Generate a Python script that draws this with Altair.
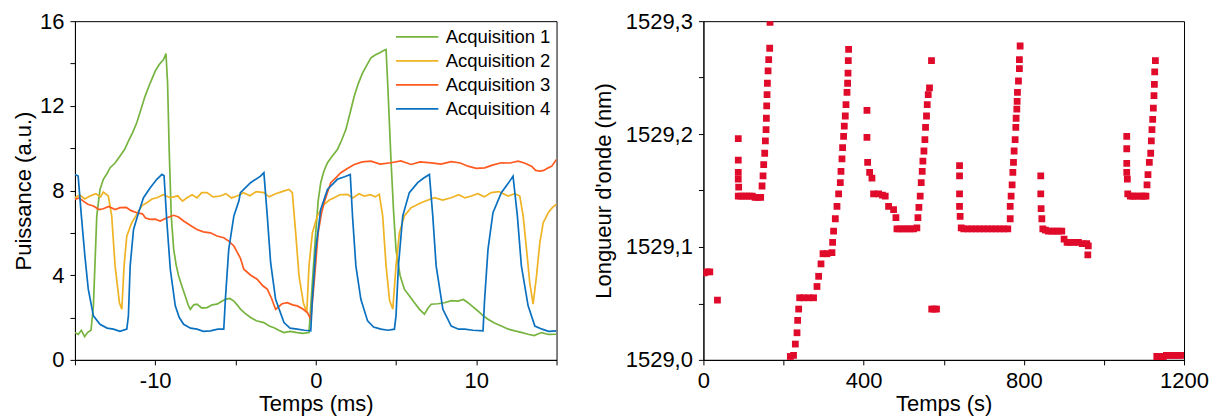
import altair as alt
import pandas as pd

# ---------------- Left panel: power vs time ----------------
series_names = ["Acquisition 1", "Acquisition 2", "Acquisition 3", "Acquisition 4"]
series_colors = ["#77B43F", "#EFB323", "#FF5A1F", "#0A71C1"]

acq1_t = [-15.0, -14.8, -14.6, -14.4, -14.2, -14.0, -13.85, -13.64, -13.44, -13.23, -13.0, -12.81,
          -12.5, -12.19, -11.9, -11.67, -11.4, -11.15, -10.9, -10.63, -10.3, -10.0, -9.75, -9.48,
          -9.33, -9.23, -9.13, -9.0, -8.85, -8.7, -8.54, -8.3, -8.13, -7.95, -7.81, -7.6, -7.4,
          -7.1, -6.77, -6.45, -6.15, -5.9, -5.63, -5.35, -5.1, -4.9, -4.69, -4.4, -4.06, -3.7,
          -3.23, -2.9, -2.6, -2.3, -1.98, -1.6, -1.15, -0.8, -0.42, -0.21, 0.0, 0.15, 0.31, 0.5,
          0.73, 1.0, 1.35, 1.6, 1.88, 2.15, 2.4, 2.65, 2.92, 3.2, 3.44, 3.7, 3.96, 4.2, 4.38,
          4.48, 4.69, 4.85, 5.0, 5.25, 5.52, 5.85, 6.15, 6.45, 6.77, 7.0, 7.19, 7.6, 8.02, 8.45,
          8.85, 9.2, 9.48, 9.8, 10.1, 10.4, 10.73, 11.1, 11.56, 12.0, 12.4, 12.8, 13.23, 13.6,
          14.06, 14.5, 15.0]
acq1_v = [1.3, 1.2, 1.4, 1.1, 1.3, 1.4, 2.55, 6.8, 8.05, 8.53, 8.8, 9.08,
          9.3, 9.63, 9.95, 10.33, 10.75, 11.2, 11.8, 12.46, 13.1, 13.64, 13.95, 14.19,
          14.47, 13.09, 9.94, 6.8, 5.22, 4.5, 3.96, 3.4, 3.02, 2.6, 2.39, 2.6, 2.63,
          2.45, 2.47, 2.6, 2.63, 2.75, 2.86, 2.9, 2.78, 2.6, 2.4, 2.2, 2.0, 1.85,
          1.76, 1.6, 1.52, 1.4, 1.29, 1.35, 1.29, 1.25, 1.29, 3.65, 6.0, 7.5, 8.37, 8.9,
          9.31, 9.6, 9.94, 10.35, 10.89, 11.7, 12.46, 13.05, 13.56, 13.95, 14.27, 14.4, 14.5, 14.6, 14.66,
          13.09, 9.4, 7.0, 5.2, 4.0, 3.34, 3.0, 2.7, 2.4, 2.16, 2.45, 2.63, 2.65, 2.7, 2.8,
          2.78, 2.85, 2.7, 2.5, 2.31, 2.1, 1.92, 1.75, 1.6, 1.45, 1.37, 1.3, 1.21, 1.15,
          1.29, 1.2, 1.21]

acq2_t = [-15.0, -14.7, -14.4, -14.06, -13.7, -13.4, -13.23, -12.92, -12.71, -12.5, -12.23, -12.08,
          -11.94, -11.77, -11.46, -11.2, -11.04, -10.8, -10.52, -10.2, -9.9, -9.5, -9.06, -8.6,
          -8.3, -8.02, -7.7, -7.4, -7.1, -6.77, -6.4, -5.94, -5.6, -5.25, -4.9, -4.5, -4.1, -3.7,
          -3.23, -2.9, -2.5, -2.1, -1.67, -1.46, -1.25, -1.04, -0.77, -0.56, -0.42, -0.21, 0.1,
          0.52, 0.85, 1.15, 1.5, 1.98, 2.3, 2.7, 3.02, 3.4, 3.7, 3.96, 4.17, 4.38, 4.6, 4.8, 5.0,
          5.21, 5.52, 5.94, 6.25, 6.56, 7.0, 7.4, 7.9, 8.44, 8.9, 9.3, 9.69, 10.1, 10.5, 10.94,
          11.4, 11.98, 12.4, 12.71, 12.92, 13.13, 13.33, 13.54, 13.75, 13.96, 14.17, 14.48, 14.75,
          15.0]
acq2_v = [7.66, 7.8, 7.6, 7.74, 7.85, 7.7, 7.93, 7.74, 6.8, 4.44, 2.7, 2.39,
          4.44, 5.85, 6.48, 6.8, 7.03, 7.3, 7.42, 7.6, 7.66, 7.8, 7.66, 7.75,
          7.5, 7.66, 7.8, 7.65, 7.9, 7.9, 7.7, 7.74, 7.85, 7.65, 7.74, 7.9, 7.75, 7.95,
          7.9, 7.7, 7.85, 7.95, 8.05, 7.9, 6.0, 3.96, 2.7, 2.23, 4.44, 6.0, 6.8,
          7.35, 7.55, 7.66, 7.8, 7.82, 7.65, 7.85, 7.74, 7.8, 7.7, 7.82, 6.8, 4.44, 2.8, 2.4, 4.44,
          6.0, 6.8, 7.19, 7.3, 7.42, 7.55, 7.66, 7.55, 7.66, 7.8, 7.65, 7.74, 7.85, 7.7, 7.9,
          7.95, 7.74, 7.85, 7.74, 6.8, 5.22, 3.65, 2.63, 3.96, 5.54, 6.48, 6.95, 7.2,
          7.35]

acq3_t = [-15.0, -14.75, -14.48, -14.2, -13.85, -13.5, -13.23, -12.9, -12.5, -12.19, -11.8, -11.5,
          -11.15, -10.8, -10.6, -10.31, -10.0, -9.69, -9.3, -8.85, -8.55, -8.23, -7.8, -7.4, -7.0,
          -6.56, -6.15, -5.73, -5.4, -5.1, -4.69, -4.48, -4.05, -3.65, -3.3, -3.02, -2.75, -2.5,
          -2.1, -1.77, -1.45, -1.15, -0.8, -0.52, -0.31, -0.1, 0.15, 0.35, 0.52, 0.75, 0.94, 1.25,
          1.56, 2.0, 2.4, 2.9, 3.44, 4.0, 4.69, 5.3, 5.94, 6.5, 7.19, 7.8, 8.44, 9.0, 9.48, 10.0,
          10.52, 11.0, 11.56, 12.1, 12.6, 13.0, 13.44, 13.7, 13.96, 14.2, 14.48, 14.7, 15.0]
acq3_v = [7.58, 7.65, 7.5, 7.35, 7.27, 7.1, 7.14, 7.25, 7.1, 7.19, 7.2, 7.05,
          6.95, 6.9, 6.7, 6.64, 6.65, 6.56, 6.7, 6.83, 6.75, 6.56, 6.35, 6.16, 6.05,
          6.0, 5.85, 5.77, 5.6, 5.38, 4.8, 4.28, 4.0, 3.81, 3.5, 3.34, 2.9, 2.39,
          2.65, 2.7, 2.6, 2.55, 2.4, 2.23, 1.92, 3.65, 6.0, 6.9, 7.42, 7.95, 8.37, 8.6,
          8.84, 9.05, 9.23, 9.35, 9.39, 9.25, 9.31, 9.4, 9.23, 9.35, 9.31, 9.25, 9.36, 9.3, 9.15, 9.05,
          9.07, 9.2, 9.31, 9.3, 9.39, 9.3, 9.15, 8.95, 8.92, 8.95, 9.07, 9.15, 9.47]

acq4_t = [-15.0, -14.8, -14.6, -14.38, -14.17, -13.85, -13.44, -13.0, -12.6, -12.2, -11.77, -11.67,
          -11.56, -11.35, -11.04, -10.73, -10.31, -9.9, -9.58, -9.45, -9.27, -9.06, -8.75, -8.5,
          -8.23, -7.8, -7.4, -7.0, -6.56, -6.1, -5.73, -5.63, -5.42, -5.1, -4.79, -4.69, -4.06,
          -3.44, -3.23, -3.02, -2.81, -2.5, -1.98, -1.6, -1.15, -0.7, -0.31, -0.21, 0.0, 0.31,
          0.73, 1.35, 1.8, 2.15, 2.29, 2.5, 2.81, 3.23, 3.6, 4.06, 4.5, 4.9, 5.0, 5.15, 5.42,
          5.83, 6.35, 6.75, 7.08, 7.29, 7.5, 7.92, 8.44, 8.9, 9.27, 9.8, 10.42, 10.52, 10.73,
          11.04, 11.56, 12.0, 12.29, 12.56, 12.81, 13.23, 13.65, 14.1, 14.5, 15.0]
acq4_v = [8.76, 8.68, 6.8, 4.9, 3.34, 2.08, 1.68, 1.5, 1.45, 1.35, 1.45, 2.08,
          4.44, 6.16, 6.95, 7.66, 8.13, 8.53, 8.76, 8.7, 6.48, 4.28, 2.55, 2.0,
          1.68, 1.5, 1.45, 1.35, 1.37, 1.45, 1.45, 2.86, 5.22, 6.8, 7.5, 7.9, 8.37,
          8.68, 8.84, 6.8, 4.59, 2.86, 1.76, 1.5, 1.45, 1.4, 1.37, 2.86, 5.22, 7.11,
          8.05, 8.53, 8.65, 8.76, 6.8, 4.44, 2.86, 1.84, 1.55, 1.45, 1.4, 1.45, 2.08, 4.44, 6.8,
          7.9, 8.37, 8.6, 8.76, 6.8, 4.44, 2.39, 1.6, 1.45, 1.45, 1.4, 1.37, 2.86, 5.22,
          6.95, 7.9, 8.35, 8.68, 6.8, 4.44, 2.55, 1.6, 1.45, 1.35, 1.37]

left_x_ticks = [-15, -10, -5, 0, 5, 10, 15]
left_x_labels = {-10: "-10", 0: "0", 10: "10"}
left_y_ticks = [0, 2, 4, 6, 8, 10, 12, 14, 16]

# ---------------- Right panel: wavelength vs time ----------------
wl_t = [2, 9, 16, 35,
        87, 87, 87, 87, 88,
        87, 94, 101, 108, 115, 122, 129, 136, 143,
        146.4, 148.9, 150.5, 153, 154.7, 156.4, 157.2, 158, 158.9, 159.7, 161.4, 163, 165.5, 166.3,
        217, 225, 229.5, 233.7, 235.3, 237.8, 240.3, 250, 263, 275, 283.6, 287.7, 293.6, 298.6,
        308.6, 321, 322.6, 325, 329.3, 333.5, 337.6, 341.8, 343.5, 346, 347.5, 350, 351.7, 354.2,
        356, 358.5, 360, 361, 361.7, 362.5,
        408.3, 408.3, 410, 415, 420.8, 424.9, 437.4, 447, 454, 462.3, 474.8, 480.7, 483.2, 491,
        499.7, 508, 516.4, 525, 533, 535.6, 538, 541.3, 543.8, 546.3, 548, 550.6, 553, 554.6, 557,
        558.8, 561.3, 564.5, 569.5,
        570, 576, 582,
        639.5, 639.5, 639.5, 639.5, 641, 643.6, 650, 660, 670, 680, 690, 700, 710, 720, 730, 740,
        750, 760, 766, 766, 768.3, 770.8, 772.6, 774.2, 775.8, 778.3, 780, 780.8, 782.5, 783.3,
        784.1, 786.6, 789, 789, 790.8,
        842.3, 842.3, 843.2, 845, 847.4, 854, 861.5, 870, 878.1, 886, 894.8, 900.5, 908, 915.5,
        925, 936.3, 946, 957, 961, 959.8,
        1057, 1057, 1057, 1057, 1058.5, 1059.5, 1066, 1072, 1077.7, 1086, 1094.4, 1100, 1105,
        1107.6, 1110, 1113.4, 1116.8, 1118.4, 1120, 1121.8, 1123.4, 1125, 1126, 1126.8, 1128.5,
        1132, 1140, 1148, 1156, 1164, 1172, 1180, 1188, 1196]
wl_nm = [1529.077, 1529.078, 1529.078, 1529.053,
         1529.196, 1529.177, 1529.166, 1529.160, 1529.153,
         1529.145, 1529.145, 1529.145, 1529.145, 1529.145, 1529.145, 1529.144, 1529.144, 1529.144,
         1529.154, 1529.163, 1529.173, 1529.183, 1529.194, 1529.204, 1529.214, 1529.225, 1529.235,
         1529.245, 1529.256, 1529.266, 1529.276, 1529.299,
         1529.003, 1529.004, 1529.014, 1529.024, 1529.035, 1529.045, 1529.055, 1529.055, 1529.055,
         1529.055, 1529.065, 1529.074, 1529.085, 1529.094, 1529.094, 1529.095, 1529.104, 1529.114,
         1529.125, 1529.136, 1529.147, 1529.157, 1529.167, 1529.178, 1529.188, 1529.198, 1529.207,
         1529.216, 1529.226, 1529.237, 1529.245, 1529.254, 1529.265, 1529.275,
         1529.221, 1529.197, 1529.175, 1529.166, 1529.161, 1529.147, 1529.147, 1529.146, 1529.145,
         1529.136, 1529.133, 1529.126, 1529.116, 1529.116, 1529.116, 1529.116, 1529.116, 1529.116,
         1529.117, 1529.126, 1529.135, 1529.145, 1529.157, 1529.167, 1529.176, 1529.185, 1529.195,
         1529.206, 1529.216, 1529.226, 1529.235, 1529.241, 1529.265,
         1529.045, 1529.045, 1529.045,
         1529.172, 1529.163, 1529.147, 1529.136, 1529.127, 1529.117, 1529.116, 1529.116, 1529.116,
         1529.116, 1529.116, 1529.116, 1529.116, 1529.116, 1529.116, 1529.116, 1529.116, 1529.116,
         1529.125, 1529.136, 1529.145, 1529.155, 1529.166, 1529.175, 1529.185, 1529.195, 1529.206,
         1529.214, 1529.222, 1529.229, 1529.237, 1529.247, 1529.258, 1529.266, 1529.278,
         1529.163, 1529.147, 1529.134, 1529.125, 1529.116, 1529.115, 1529.114, 1529.114, 1529.114,
         1529.114, 1529.114, 1529.107, 1529.104, 1529.104, 1529.104, 1529.104, 1529.103, 1529.103,
         1529.101, 1529.093,
         1529.198, 1529.187, 1529.174, 1529.166, 1529.160, 1529.147, 1529.145, 1529.145, 1529.145,
         1529.145, 1529.145, 1529.145, 1529.145, 1529.155, 1529.164, 1529.175, 1529.183, 1529.194,
         1529.204, 1529.213, 1529.223, 1529.234, 1529.244, 1529.255, 1529.265,
         1529.003, 1529.003, 1529.003, 1529.004, 1529.004, 1529.004, 1529.004, 1529.004, 1529.004]

right_x_ticks = [0, 200, 400, 600, 800, 1000, 1200]
right_y_ticks = [1529.0, 1529.05, 1529.1, 1529.15, 1529.2, 1529.25, 1529.3]
marker_color = "#E00A2B"

FONT = "Liberation Sans"

rows = []
for name, ts, vs in zip(series_names, [acq1_t, acq2_t, acq3_t, acq4_t],
                        [acq1_v, acq2_v, acq3_v, acq4_v]):
    for i, (t, v) in enumerate(zip(ts, vs)):
        rows.append({"t": t, "v": v, "serie": name, "i": i})
df_left = pd.DataFrame(rows)

df_right = pd.DataFrame({"t": wl_t, "lam": wl_nm})

lx_expr = " : ".join(f"datum.value == {k} ? '{v}'" for k, v in left_x_labels.items()) + " : ''"

left = alt.Chart(df_left).mark_line(strokeWidth=1.7, clip=True).encode(
    x=alt.X("t:Q", scale=alt.Scale(domain=[-15, 15], nice=False),
            axis=alt.Axis(values=left_x_ticks, labelExpr=lx_expr, title="Temps (ms)",
                          labelFlush=False, titlePadding=2)),
    y=alt.Y("v:Q", scale=alt.Scale(domain=[0, 16], nice=False),
            axis=alt.Axis(values=left_y_ticks, labelExpr="datum.value % 4 == 0 ? datum.label : ''",
                          title="Puissance (a.u.)", titlePadding=4)),
    color=alt.Color("serie:N", scale=alt.Scale(domain=series_names, range=series_colors),
                    legend=alt.Legend(title=None, orient="none", legendX=320, legendY=4,
                                      symbolType="stroke", symbolSize=1800,
                                      symbolStrokeWidth=1.6, labelFont=FONT,
                                      labelFontSize=18.5, labelOffset=6, rowPadding=0,
                                      clipHeight=23.5, padding=0, labelColor="black")),
    order="i:Q",
).properties(width=482, height=339)

right = alt.Chart(df_right).mark_square(size=46, color=marker_color, opacity=1, clip=True).encode(
    x=alt.X("t:Q", scale=alt.Scale(domain=[0, 1200], nice=False),
            axis=alt.Axis(values=right_x_ticks,
                          labelExpr="datum.value % 400 == 0 ? format(datum.value, 'd') : ''",
                          title="Temps (s)", labelFlush=False, titlePadding=2)),
    y=alt.Y("lam:Q", scale=alt.Scale(domain=[1529.0, 1529.3], nice=False, zero=False),
            axis=alt.Axis(values=right_y_ticks,
                          labelExpr="round(datum.value * 100) % 10 == 0 ? replace(format(datum.value, '.1f'), '.', ',') : ''",
                          title="Longueur d'onde (nm)", titlePadding=10)),
).properties(width=481, height=339)

chart = alt.hconcat(left, right, spacing=34).resolve_legend(color="independent").configure(
    padding={"left": 4, "top": 1, "right": 0, "bottom": 0}
).configure_view(stroke="black", strokeWidth=1).configure_axis(
    labelFont=FONT, labelFontSize=22, titleFont=FONT, titleFontSize=22,
    titleFontWeight="normal", labelColor="black", titleColor="black",
    domainColor="black", tickColor="black", tickSize=5, labelPadding=6,
    grid=False, domainWidth=1, tickWidth=1
)

chart.save("out.html", embed_options={"renderer": "svg", "actions": False})
